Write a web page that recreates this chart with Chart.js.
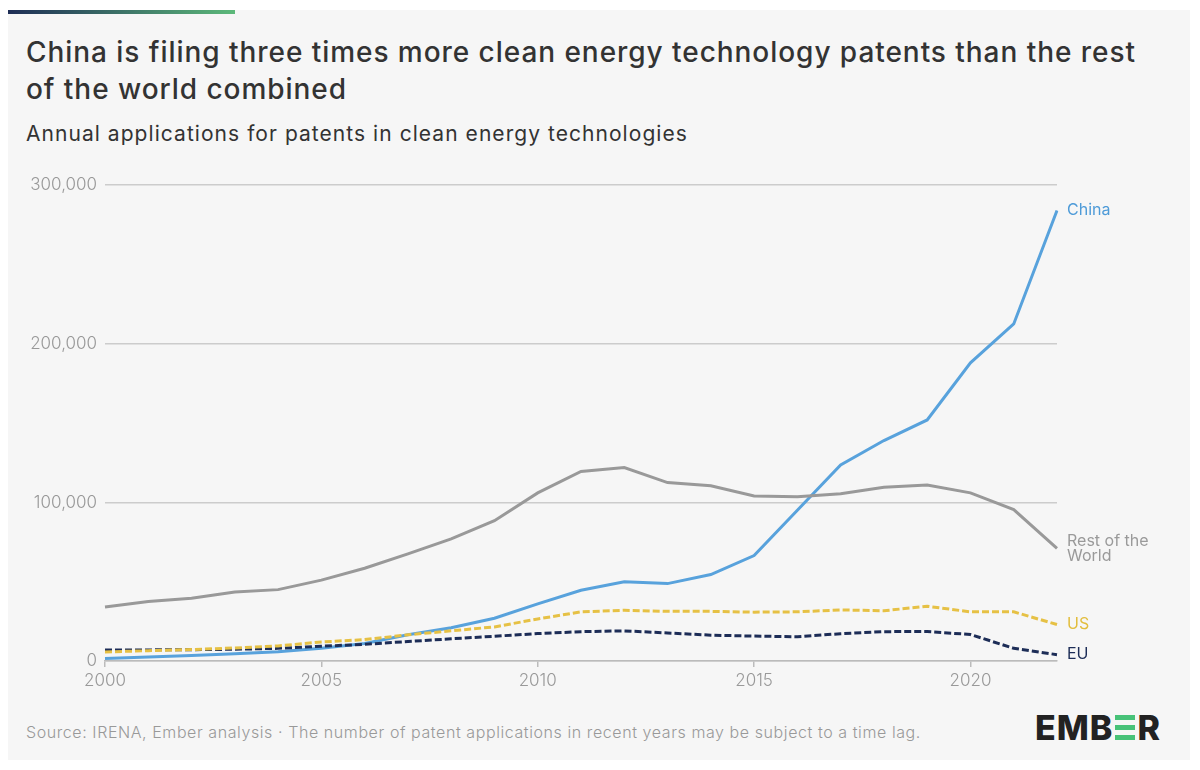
<!DOCTYPE html>
<html>
<head>
<meta charset="utf-8">
<script src="https://cdn.jsdelivr.net/npm/chart.js@4.4.1/dist/chart.umd.min.js"></script>
<style>
  html, body { margin: 0; padding: 0; background: #fff; }
  body { width: 1200px; height: 770px; position: relative; overflow: hidden; font-family: Inter, "Noto Sans", sans-serif; }
  #panel { position: absolute; left: 8px; top: 10px; width: 1182px; height: 750px; background: #f6f6f6; }
  #topbar { position: absolute; left: 8px; top: 10px; width: 227px; height: 4px; background: linear-gradient(90deg, #1e2d55, #5cb97a); }
  #title { position: absolute; left: 26px; top: 34px; font-size: 28px; font-weight: 500; color: #333; line-height: 37px; letter-spacing: 0.95px; white-space: nowrap; }
  #subtitle { position: absolute; left: 26px; top: 121px; font-size: 21px; font-weight: 400; color: #333; letter-spacing: 1.05px; white-space: nowrap; }
  #source { position: absolute; left: 26px; top: 722px; font-size: 16px; font-weight: 300; color: #999; letter-spacing: 0.58px; white-space: nowrap; }
  #logo { position: absolute; left: 1035px; top: 707px; font-size: 34px; font-weight: 800; color: #222; letter-spacing: 1px; display: flex; align-items: center; }
  #logo .e { display: inline-flex; flex-direction: column; justify-content: space-between; width: 20px; height: 25px; margin: 0 2px; }
  #logo .e i { display: block; height: 5px; background: #47c278; }
  #wrap { position: absolute; left: 8px; top: 167px; width: 1182px; height: 534px; }
</style>
</head>
<body>
<div id="panel"></div>
<div id="topbar"></div>
<div id="title">China is filing three times more clean energy technology patents than the rest<br>of the world combined</div>
<div id="subtitle">Annual applications for patents in clean energy technologies</div>
<div id="wrap"><canvas id="chart" width="1182" height="534"></canvas></div>
<div id="source">Source: IRENA, Ember analysis · The number of patent applications in recent years may be subject to a time lag.</div>
<div id="logo">EMB<span class="e"><i></i><i></i><i></i></span>R</div>
<script>
const years = [2000, 2001, 2002, 2003, 2004, 2005, 2006, 2007, 2008, 2009, 2010, 2011,
  2012, 2013, 2014, 2015, 2016, 2017, 2018, 2019, 2020, 2021, 2022]
const china = [1500, 2500, 3500, 4600, 5800, 8000, 11000, 16500, 21000, 27000, 36000, 44600,
  50000, 48800, 54500, 66500, 95000, 123600, 139000, 152000, 188000, 212500, 284000]
const restOfWorld = [34000, 37500, 39500, 43500, 45000, 51000, 58500, 67500, 77000, 88500, 106000, 119500,
  122000, 112500, 110500, 104000, 103500, 105500, 109500, 111000, 106000, 95500, 71000]
const us = [5700, 6500, 7200, 8200, 9500, 12000, 13500, 16500, 19000, 21500, 26500, 31000,
  32000, 31300, 31300, 30800, 31000, 32200, 31700, 34500, 31000, 31000, 23000]
const eu = [7000, 7000, 7100, 7400, 8000, 9300, 10500, 12300, 14000, 15600, 17300, 18500,
  19000, 17700, 16300, 15700, 15300, 17200, 18500, 18600, 16700, 8000, 4000]
const yTicks = [0, 100000, 200000, 300000]

const endLabels = {
  id: "endLabels",
  afterDatasetsDraw(chart) {
    const ctx = chart.ctx
    ctx.save()
    ctx.font = "400 16px Inter, sans-serif"
    ctx.textBaseline = "middle"
    chart.data.datasets.forEach((ds, i) => {
      const pts = chart.getDatasetMeta(i).data
      const p = pts[pts.length - 1]
      ctx.fillStyle = ds.labelColor
      const lines = ds.label.split("\n")
      lines.forEach((line, j) => {
        ctx.fillText(line, p.x + 10, p.y + (j - (lines.length - 1) / 2) * 15)
      })
    })
    ctx.restore()
  }
}

const ctx = document.getElementById("chart")

new Chart(ctx, {
  type: "line",
  data: {
    labels: years,
    datasets: [
      { label: "Rest of the\nWorld", data: restOfWorld, borderColor: "#999999", labelColor: "#9a9a9a", borderWidth: 3 },
      { label: "US", data: us, borderColor: "#e6c145", labelColor: "#e2bd3c", borderWidth: 3, borderDash: [7, 3] },
      { label: "EU", data: eu, borderColor: "#1d2d57", labelColor: "#1d2d57", borderWidth: 3, borderDash: [7, 3] },
      { label: "China", data: china, borderColor: "#58a2dc", labelColor: "#4e9bd8", borderWidth: 3 },
    ],
  },
  options: {
    responsive: false,
    animation: false,
    devicePixelRatio: 1,
    layout: { padding: { top: 11, right: 133, left: 0, bottom: 0 } },
    elements: { point: { radius: 0 }, line: { tension: 0, borderCapStyle: "butt" } },
    plugins: { legend: { display: false }, tooltip: { enabled: false } },
    scales: {
      x: {
        offset: false,
        grid: {
          drawOnChartArea: false,
          tickLength: 6,
          tickColor: c => (years[c.index] % 5 === 0 ? "#bbbbbb" : "rgba(0,0,0,0)"),
          lineWidth: 1.5,
        },
        border: { color: "#bbbbbb", width: 1.5 },
        ticks: {
          autoSkip: false,
          maxRotation: 0,
          padding: 4,
          color: "#999999",
          font: { family: "Inter, sans-serif", size: 17, weight: 300 },
          callback: (v, i) => (years[i] % 5 === 0 ? String(years[i]) : ""),
        },
        afterFit: s => { s.height = 40 },
      },
      y: {
        min: 0,
        max: 300000,
        afterBuildTicks: s => { s.ticks = yTicks.map(v => ({ value: v })) },
        grid: { color: "#cccccc", lineWidth: 1.5, drawTicks: false },
        border: { display: false },
        ticks: {
          padding: 8,
          color: "#999999",
          font: { family: "Inter, sans-serif", size: 17, weight: 300 },
          callback: v => v.toLocaleString("en-US"),
        },
        afterFit: s => { s.width = 97 },
      },
    },
  },
  plugins: [endLabels],
})
</script>
</body>
</html>
